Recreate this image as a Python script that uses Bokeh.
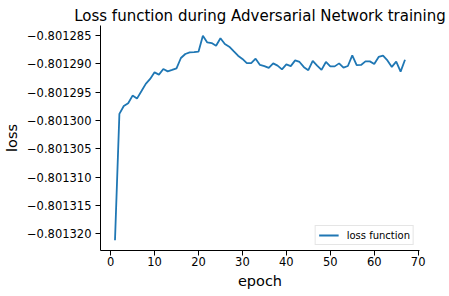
from bokeh.plotting import figure
from bokeh.embed import file_html
from bokeh.resources import INLINE
from bokeh.models import Range1d, FixedTicker, CustomJSTickFormatter, Legend, LegendItem

epochs = list(range(1, 68))
loss = [
    -0.80132118, -0.80129882, -0.80129744, -0.80129695, -0.80129559, -0.80129612,
    -0.80129483, -0.80129352, -0.80129264, -0.80129148, -0.80129188, -0.80129088,
    -0.80129130, -0.80129105, -0.80129077, -0.80128894, -0.80128823, -0.80128795,
    -0.80128791, -0.80128782, -0.80128500, -0.80128618, -0.80128629, -0.80128676,
    -0.80128544, -0.80128646, -0.80128694, -0.80128774, -0.80128853, -0.80128911,
    -0.80128985, -0.80128985, -0.80128906, -0.80129017, -0.80129038, -0.80129070,
    -0.80128989, -0.80129029, -0.80129095, -0.80129006, -0.80129038, -0.80128936,
    -0.80128964, -0.80129056, -0.80129109, -0.80128946, -0.80129029, -0.80129104,
    -0.80128964, -0.80129042, -0.80129042, -0.80128989, -0.80129065, -0.80129035,
    -0.80128849, -0.80129021, -0.80129017, -0.80128954, -0.80128954, -0.80128999,
    -0.80128876, -0.80128853, -0.80128936, -0.80129052, -0.80128959, -0.80129135,
    -0.80128924,
]
x_ticks = [0, 10, 20, 30, 40, 50, 60, 70]
y_ticks = [-0.801320, -0.801315, -0.801310, -0.801305, -0.801300,
           -0.801295, -0.801290, -0.801285]

title_text = "Loss function during Adversarial Network training"
x_label = "epoch"
y_label = "loss"
legend_label = "loss function"

xpad = (max(epochs) - min(epochs)) * 0.05
ypad = (max(loss) - min(loss)) * 0.05

p = figure(width=449, height=296, output_backend="svg", toolbar_location=None,
           x_range=Range1d(min(epochs) - xpad, max(epochs) + xpad),
           y_range=Range1d(min(loss) - ypad, max(loss) + ypad),
           title=title_text)
p.min_border_left = 100
p.min_border_right = 30
p.min_border_top = 25
p.min_border_bottom = 46
p.outline_line_color = None
p.background_fill_color = "white"
p.border_fill_color = "white"
p.xgrid.visible = False
p.ygrid.visible = False

p.title.text_font = "DejaVu Sans"
p.title.text_font_size = "15px"
p.title.text_font_style = "normal"
p.title.text_color = "black"
p.title.align = "center"
p.title.standoff = 2
p.title.offset = -3

for ax in (p.xaxis[0], p.yaxis[0]):
    ax.axis_line_color = "black"
    ax.axis_line_width = 1
    ax.major_tick_line_color = "black"
    ax.major_tick_in = 0
    ax.major_tick_out = 5
    ax.minor_tick_line_color = None
    ax.major_label_text_font = "DejaVu Sans"
    ax.major_label_text_font_size = "11.5px"
    ax.major_label_text_color = "black"
    ax.axis_label_text_font = "DejaVu Sans"
    ax.axis_label_text_font_size = "14.5px"
    ax.axis_label_text_font_style = "normal"
    ax.axis_label_text_color = "black"

p.xaxis.ticker = FixedTicker(ticks=x_ticks)
p.yaxis.ticker = FixedTicker(ticks=y_ticks)
p.yaxis.formatter = CustomJSTickFormatter(
    code="return (tick < 0 ? '\u2212' : '') + Math.abs(tick).toFixed(6);")
p.xaxis.axis_label = x_label
p.yaxis.axis_label = y_label
p.xaxis.major_label_standoff = 1
p.yaxis.major_label_standoff = 4
p.xaxis.axis_label_standoff = 4
p.yaxis.axis_label_standoff = 4

r = p.line(epochs, loss, line_color="#1f77b4", line_width=1.8)

legend = Legend(items=[LegendItem(label=legend_label, renderers=[r])],
                location="bottom_right")
legend.margin = 5
legend.padding = 3
legend.spacing = 0
legend.label_text_font = "DejaVu Sans"
legend.label_text_font_size = "10px"
legend.label_text_color = "black"
legend.label_height = 12
legend.glyph_height = 12
legend.glyph_width = 20
legend.label_standoff = 8
legend.border_line_color = "#cccccc"
legend.border_line_width = 1
legend.background_fill_alpha = 0.8
p.add_layout(legend, "center")

open("out.html", "w").write(file_html(p, INLINE))
